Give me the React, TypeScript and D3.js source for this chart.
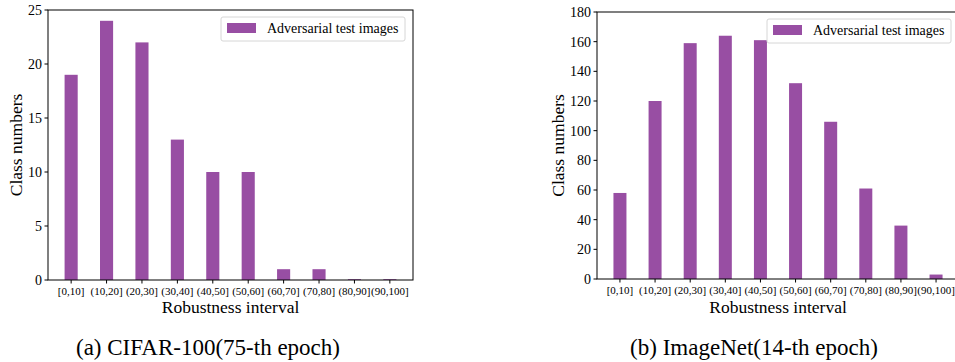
import * as d3 from 'd3';

// robustness buckets shared by both panels
const intervals = ['[0,10]', '(10,20]', '(20,30]', '(30,40]', '(40,50]', '(50,60]', '(60,70]', '(70,80]', '(80,90]', '(90,100]'];

// class counts per bucket
const cifarCounts = [19, 24, 22, 13, 10, 10, 1, 1, 0, 0];
const imagenetCounts = [58, 120, 159, 164, 161, 132, 106, 61, 36, 3];

// y tick labels
const cifarTicks = [0, 5, 10, 15, 20, 25];
const imagenetTicks = [0, 20, 40, 60, 80, 100, 120, 140, 160, 180];

const seriesName = 'Adversarial test images';
const captions = ['(a) CIFAR-100(75-th epoch)', '(b) ImageNet(14-th epoch)'];

const purple = '#984ea3';
const font = 'Liberation Serif, Times New Roman, serif';
const barW = 0.37;

type PanelProps = {
  values: number[];
  ticks: number[];
  yMax: number;
  left: number;
  right: number;
  top: number;
  bottom: number;
  caption: string;
  captionX: number;
};

function Panel({ values, ticks, yMax, left, right, top, bottom, caption, captionX }: PanelProps) {
  // matplotlib-ish auto margins on the categorical axis
  const n = values.length;
  const pad = 0.05 * (n - 1 + barW);
  const x = d3.scaleLinear()
    .domain([-barW / 2 - pad, n - 1 + barW / 2 + pad])
    .range([left, right]);
  const y = d3.scaleLinear().domain([0, yMax]).range([bottom, top]);
  const bw = x(barW) - x(0);

  // y label sits just left of the widest tick label
  const digits = d3.max(ticks, t => String(t).length) || 1;
  const ylabelX = left - 6 - digits * 7 - 12;

  const legendW = 184;
  const legendH = 24;
  const lx = right - 8 - legendW;
  const ly = top + 7;

  return (
    <g fill="#000">
      {values.map((v, i) => (
        <rect
          key={i}
          x={x(i) - bw / 2}
          y={y(v) - (v === 0 ? 0.8 : 0)}
          width={bw}
          height={Math.max(0.8, bottom - y(v))}
          fill={purple}
        />
      ))}

      {/* frame */}
      <rect x={left} y={top} width={right - left} height={bottom - top} fill="none" stroke="#000" strokeWidth={1} />

      {/* y axis */}
      {ticks.map(t => (
        <g key={t}>
          <line x1={left - 3.5} x2={left} y1={y(t)} y2={y(t)} stroke="#000" />
          <text x={left - 6} y={y(t)} dy="0.35em" textAnchor="end" fontSize={14}>{t}</text>
        </g>
      ))}
      <text
        transform={`translate(${ylabelX}, ${(top + bottom) / 2}) rotate(-90)`}
        textAnchor="middle"
        dy="0.35em"
        fontSize={17.5}
      >
        Class numbers
      </text>

      {/* x axis */}
      {intervals.map((c, i) => (
        <g key={c}>
          <line x1={x(i)} x2={x(i)} y1={bottom} y2={bottom + 3.5} stroke="#000" />
          <text x={x(i)} y={bottom + 15} textAnchor="middle" fontSize={11}>{c}</text>
        </g>
      ))}
      <text x={(left + right) / 2} y={313} textAnchor="middle" fontSize={17.5}>Robustness interval</text>

      {/* legend */}
      <rect x={lx} y={ly} width={legendW} height={legendH} rx={2} fill="#fff" fillOpacity={0.8} stroke="#d6d6d6" />
      <rect x={lx + 6} y={ly + 6} width={29} height={10} fill={purple} />
      <text x={lx + 46} y={ly + 16} fontSize={14}>{seriesName}</text>

      <text x={captionX} y={355} textAnchor="middle" fontSize={23}>{caption}</text>
    </g>
  );
}

export default function App() {
  return (
    <svg
      width={955}
      height={362}
      style={{ position: 'absolute', left: 0, top: 0, background: '#fff', fontFamily: font }}
    >
      <Panel values={cifarCounts} ticks={cifarTicks} yMax={25} left={48} right={413} top={10} bottom={280} caption={captions[0]} captionX={208} />
      <Panel values={imagenetCounts} ticks={imagenetTicks} yMax={180} left={597} right={959} top={12} bottom={279} caption={captions[1]} captionX={754} />
    </svg>
  );
}
